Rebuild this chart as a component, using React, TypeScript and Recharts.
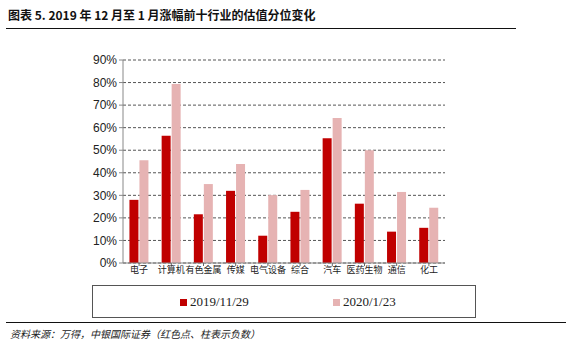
import { Bar, BarChart, CartesianGrid, XAxis, YAxis } from "recharts";

const industries = ["电子", "计算机", "有色金属", "传媒", "电气设备", "综合", "汽车", "医药生物", "通信", "化工"];
const dec2019 = [28, 56.4, 21.6, 32, 12.1, 22.7, 55.3, 26.3, 13.9, 15.6];
const jan2020 = [45.6, 79.4, 35, 43.9, 30.1, 32.4, 64.3, 50, 31.5, 24.5];
const yTicks = [0, 10, 20, 30, 40, 50, 60, 70, 80, 90];
const seriesNames = ["2019/11/29", "2020/1/23"];
const colors = ["#c00000", "#e6b3b3"];

const data = industries.map((name, i) => ({ name, a: dec2019[i], b: jan2020[i] }));

function LegendBox() {
  return (
    <div style={{ position: "absolute", left: 92, top: 285, width: 384, height: 33, border: "1px solid #555", boxSizing: "border-box", fontFamily: "'Liberation Serif', serif", fontSize: 13, color: "#222" }}>
      {seriesNames.map((name, i) => (
        <div key={name} style={{ position: "absolute", left: i === 0 ? 87 : 240, top: 8, display: "flex", alignItems: "center" }}>
          <span style={{ width: 7, height: 7, background: colors[i], marginRight: 3, display: "inline-block" }} />
          {name}
        </div>
      ))}
    </div>
  );
}

export default function App() {
  return (
    <div style={{ position: "fixed", left: 0, top: 0, width: 572, height: 344, background: "#fff", overflow: "hidden" }}>
      <div style={{ position: "absolute", left: 8, top: 6, fontFamily: "'Noto Sans CJK SC', sans-serif", fontWeight: 700, fontSize: 12, color: "#111", whiteSpace: "nowrap" }}>
        图表 5. 2019 年 12 月至 1 月涨幅前十行业的估值分位变化
      </div>
      <div style={{ position: "absolute", left: 6, top: 28, width: 510, height: 1, background: "#111" }} />
      <BarChart width={572} height={344} data={data} margin={{ top: 60, right: 127, bottom: 61, left: 73 }} barGap={1} barCategoryGap="20%">
        <CartesianGrid horizontal vertical={false} stroke="#555" strokeWidth={1} strokeDasharray="3 2" />
        <XAxis dataKey="name" interval={0} tickLine={{ stroke: "#666" }} axisLine={{ stroke: "#888" }} height={20} tick={{ fontSize: 9, fill: "#222", fontFamily: "'Noto Sans CJK SC', sans-serif" }} tickSize={3} tickMargin={1} />
        <YAxis domain={[0, 90]} ticks={yTicks} interval={0} width={50} tickFormatter={(v) => `${v}%`} axisLine={{ stroke: "#888" }} tickLine={{ stroke: "#888" }} tickSize={4} tick={{ fontSize: 12, fill: "#222", fontFamily: "'Liberation Sans', Arial, sans-serif" }} />
        <Bar dataKey="a" name={seriesNames[0]} fill={colors[0]} isAnimationActive={false} />
        <Bar dataKey="b" name={seriesNames[1]} fill={colors[1]} isAnimationActive={false} />
      </BarChart>
      <LegendBox />
      <div style={{ position: "absolute", left: 6, top: 322, width: 560, height: 1, background: "#111" }} />
      <div style={{ position: "absolute", left: 10, top: 326, fontFamily: "'Noto Sans CJK SC', sans-serif", fontStyle: "italic", fontSize: 10, color: "#222", whiteSpace: "nowrap" }}>
        资料来源：万得，中银国际证券（红色点、柱表示负数）
      </div>
    </div>
  );
}
